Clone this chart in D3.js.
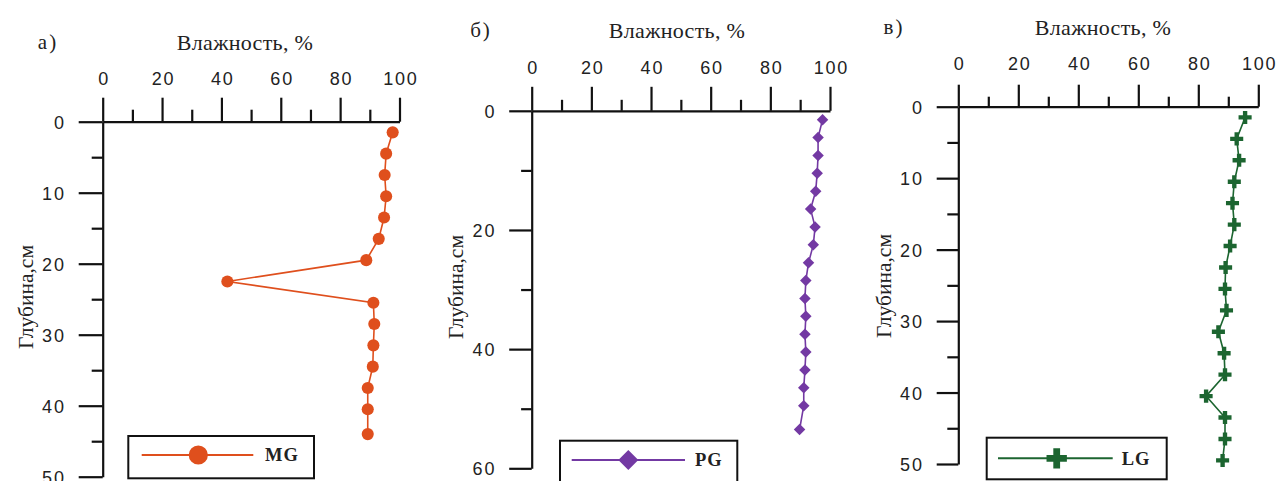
<!DOCTYPE html>
<html><head><meta charset="utf-8">
<script src="https://cdn.jsdelivr.net/npm/d3@7"></script>
<style>
html,body{margin:0;padding:0;background:#fff;}
svg{display:block;}
</style></head>
<body>
<svg id="chart" width="1276" height="481"></svg>
<script>
// ---- data ----
const xTicksMajor = [0, 20, 40, 60, 80, 100];
const xTicksMinor = [10, 30, 50, 70, 90];
const yTicksA = [0, 10, 20, 30, 40, 50];
const yMinorA = [5, 15, 25, 35, 45];
const yTicksB = [0, 20, 40, 60];
const yMinorB = [10, 30, 50];
const yTicksC = [0, 10, 20, 30, 40, 50];
const yMinorC = [5, 15, 25, 35, 45];

const depthMG = [1.5, 4.5, 7.5, 10.5, 13.5, 16.5, 19.5, 22.5, 25.5, 28.5, 31.5, 34.5, 37.5, 40.5, 44];
const moistMG = [97.7, 95.5, 95, 95.5, 94.8, 93, 88.8, 42, 91.2, 91.5, 91.2, 91, 89.3, 89.3, 89.3];

const depthPG = [1.5, 4.5, 7.5, 10.5, 13.5, 16.5, 19.5, 22.5, 25.5, 28.5, 31.5, 34.5, 37.5, 40.5, 43.5, 46.5, 49.5, 53.5];
const moistPG = [97.5, 96, 96, 95.7, 95.2, 93.5, 95, 94.4, 92.8, 91.9, 91.6, 91.9, 91.6, 91.9, 91.6, 91.2, 91.2, 89.8];

const depthLG = [1.5, 4.5, 7.5, 10.5, 13.5, 16.5, 19.5, 22.5, 25.5, 28.5, 31.5, 34.5, 37.5, 40.5, 43.5, 46.5, 49.5];
const moistLG = [95.6, 92.8, 93.6, 92, 91.4, 92, 90.6, 89.1, 88.9, 89.4, 86.7, 88.6, 88.9, 82.6, 88.9, 88.9, 88.1];

const xTitle = "Влажность, %";
const yTitle = "Глубина,см";

// ---- layout ----
const panels = [
  {letter:"а)", name:"MG", depth:depthMG, moist:moistMG, yMax:50, yTicks:yTicksA, yMinor:yMinorA,
   color:"#df4f1d", sym:"circle",
   x0:102.7, x1:399.5, y0:121.7, y1:476.7, major:24, minor:12, ymajor:24, yminor:11,
   letterX:48, letterY:42, titleX:245, titleY:42, yLabX:25, yLabY:297,
   leg:{x:128.3, y:436, w:185.7, h:42.3, l0:141.7, l1:253.3, ly:455, mx:198.3, tx:265}},
  {letter:"б)", name:"PG", depth:depthPG, moist:moistPG, yMax:60, yTicks:yTicksB, yMinor:yMinorB,
   color:"#7339a3", sym:"diamond",
   x0:531.7, x1:830, y0:110.8, y1:468.3, major:24, minor:11, ymajor:22.5, yminor:10.6,
   letterX:481, letterY:30, titleX:677, titleY:30, yLabX:455, yLabY:287,
   leg:{x:560, y:440.7, w:177.3, h:46, l0:571.7, l1:685, ly:460, mx:628.3, tx:695}},
  {letter:"в)", name:"LG", depth:depthLG, moist:moistLG, yMax:50, yTicks:yTicksC, yMinor:yMinorC,
   color:"#1c6530", sym:"cross",
   x0:958.3, x1:1258.3, y0:106.7, y1:464, major:22, minor:10, ymajor:21.6, yminor:11,
   letterX:894, letterY:27, titleX:1103, titleY:27, yLabX:883, yLabY:286,
   leg:{x:986.7, y:437.7, w:180, h:41.6, l0:998, l1:1112.7, ly:458.3, mx:1056.7, tx:1121.7}}
];

const svg = d3.select("#chart");
const serif = '"Liberation Serif","Times New Roman",serif';
const sans = '"Liberation Sans",Arial,sans-serif';

function symbolPath(kind, big){
  if(kind==="circle") return d3.symbol(d3.symbolCircle, big?290:115)();
  if(kind==="diamond") return d3.symbol(d3.symbolSquare, big?200:66)();
  return d3.symbol(d3.symbolCross, big?230:95)();
}

panels.forEach(p => {
  const x = d3.scaleLinear().domain([0,100]).range([p.x0, p.x1]);
  const y = d3.scaleLinear().domain([0,p.yMax]).range([p.y0, p.y1]);
  const g = svg.append("g");

  const ax = g.append("g").attr("transform", `translate(0,${p.y0})`)
    .call(d3.axisTop(x).tickValues(xTicksMajor).tickSize(p.major).tickSizeOuter(0).tickPadding(p.major===24?13:15));
  const axm = g.append("g").attr("transform", `translate(0,${p.y0})`)
    .call(d3.axisTop(x).tickValues(xTicksMinor).tickSize(p.minor).tickSizeOuter(0).tickFormat(""));
  axm.select(".domain").remove();

  const ay = g.append("g").attr("transform", `translate(${p.x0},0)`)
    .call(d3.axisLeft(y).tickValues(p.yTicks).tickSize(p.ymajor).tickSizeOuter(0).tickPadding(13));
  const aym = g.append("g").attr("transform", `translate(${p.x0},0)`)
    .call(d3.axisLeft(y).tickValues(p.yMinor).tickSize(p.yminor).tickSizeOuter(0).tickFormat(""));
  aym.select(".domain").remove();

  g.selectAll(".domain, .tick line").attr("stroke","#111").attr("stroke-width",2.2);
  g.selectAll(".tick text").attr("font-family", sans).attr("font-size", 18)
    .attr("fill","#222").attr("letter-spacing", "1.8px");
  ax.selectAll(".tick text").attr("dx","0.05em");
  ay.selectAll(".tick text").attr("dy","0.36em");

  g.append("text").attr("x", p.titleX).attr("y", p.titleY).attr("dy","0.35em")
    .attr("text-anchor","middle").attr("font-family", serif).attr("font-size", 22)
    .attr("letter-spacing","0.3px").attr("fill","#222").text(xTitle);
  g.append("text").attr("x", p.letterX).attr("y", p.letterY).attr("dy","0.35em")
    .attr("text-anchor","middle").attr("font-family", serif).attr("font-size", 21)
    .attr("letter-spacing","2px").attr("fill","#222").text(p.letter);
  g.append("text").attr("transform", `translate(${p.yLabX},${p.yLabY}) rotate(-90)`)
    .attr("dy","0.35em").attr("text-anchor","middle").attr("font-family", serif)
    .attr("font-size", 21.5).attr("fill","#222").text(yTitle);

  const pts = p.depth.map((d,i) => ({d, m:p.moist[i]}));
  const line = d3.line().x(v => x(v.m)).y(v => y(v.d));
  g.append("path").datum(pts).attr("d", line).attr("fill","none")
    .attr("stroke", p.color).attr("stroke-width", 1.6);
  g.selectAll(".pt").data(pts).join("path").attr("class","pt")
    .attr("transform", v => `translate(${x(v.m)},${y(v.d)})${p.sym==="diamond"?" rotate(45)":""}`)
    .attr("d", symbolPath(p.sym,false)).attr("fill", p.color);

  const L = p.leg;
  g.append("rect").attr("x", L.x).attr("y", L.y).attr("width", L.w).attr("height", L.h)
    .attr("fill","#fff").attr("stroke","#111").attr("stroke-width",2);
  g.append("line").attr("x1", L.l0).attr("x2", L.l1).attr("y1", L.ly).attr("y2", L.ly)
    .attr("stroke", p.color).attr("stroke-width", 2);
  g.append("path").attr("transform", `translate(${L.mx},${L.ly})${p.sym==="diamond"?" rotate(45)":""}`)
    .attr("d", symbolPath(p.sym,true)).attr("fill", p.color);
  g.append("text").attr("x", L.tx).attr("y", L.ly).attr("dy","0.35em")
    .attr("font-family", serif).attr("font-weight","bold").attr("font-size", 18.5)
    .attr("letter-spacing","1px").attr("fill","#222").text(p.name);
});
</script>
</body></html>
